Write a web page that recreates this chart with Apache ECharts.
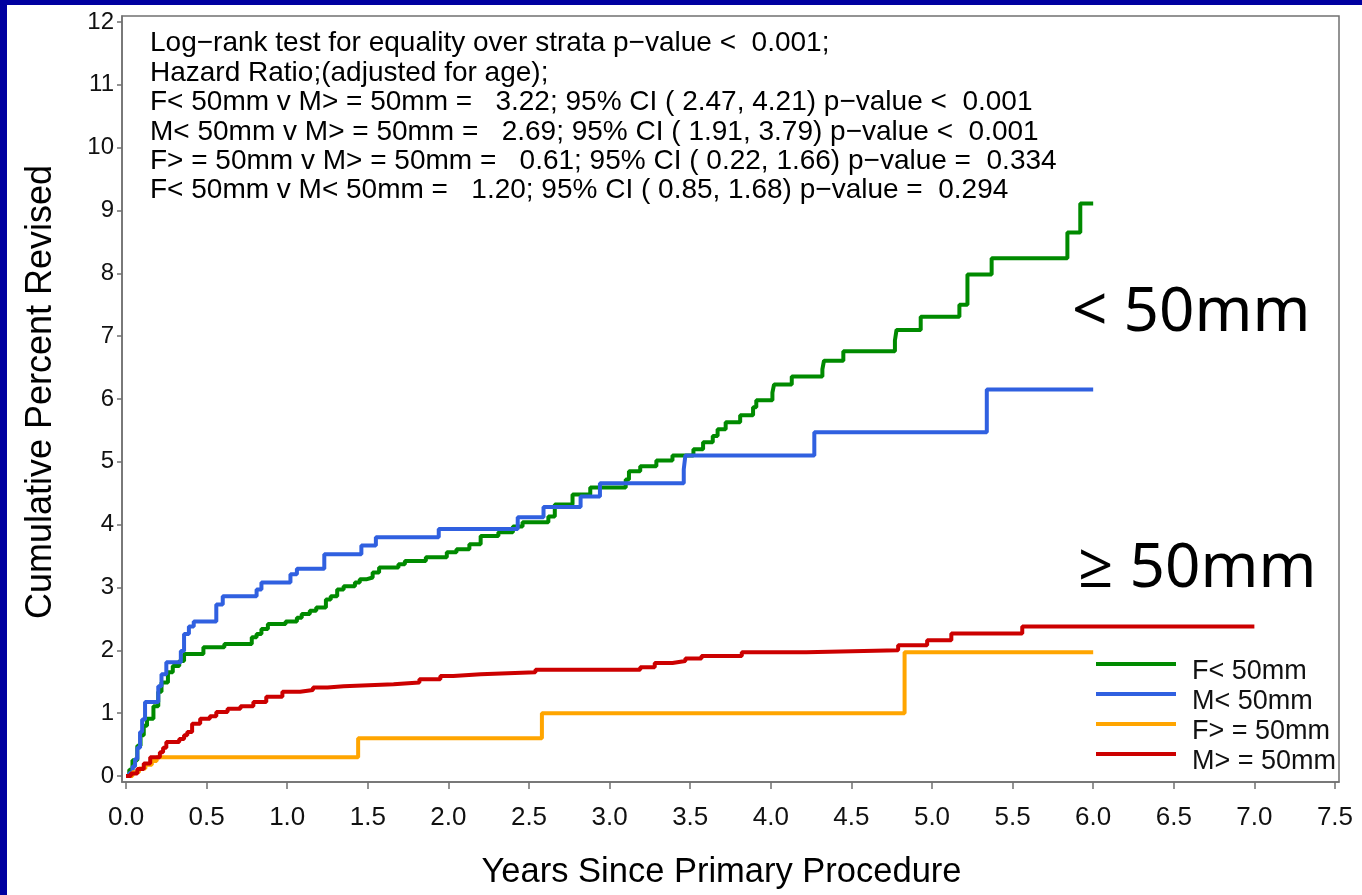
<!DOCTYPE html>
<html>
<head>
<meta charset="utf-8">
<script src="https://cdn.jsdelivr.net/npm/echarts@6/dist/echarts.min.js"></script>
<style>
  html, body { margin: 0; padding: 0; background: #0000a0; width: 1362px; height: 895px; overflow: hidden; }
  #chart { position: absolute; left: 7px; top: 5px; width: 1355px; height: 890px; background: #ffffff; }
</style>
</head>
<body>
<div id="chart"></div>
<script>
// ---- data ----
var seriesNames = ['F< 50mm', 'M< 50mm', 'F> = 50mm', 'M> = 50mm'];

var femaleLt50 = [[0,0],[0.02,0.1],[0.04,0.25],[0.07,0.48],[0.09,0.65],[0.11,0.8],[0.13,0.91],[0.17,1.11],[0.20,1.34],[0.22,1.49],[0.26,1.65],[0.29,1.75],[0.33,1.83],[0.36,1.94],[0.48,2.05],[0.61,2.10],[0.78,2.21],[0.81,2.26],[0.84,2.34],[0.88,2.42],[0.99,2.46],[1.06,2.52],[1.09,2.58],[1.14,2.63],[1.18,2.68],[1.24,2.81],[1.27,2.86],[1.31,2.97],[1.35,3.02],[1.42,3.08],[1.45,3.13],[1.49,3.16],[1.53,3.24],[1.57,3.32],[1.69,3.37],[1.73,3.42],[1.86,3.48],[1.99,3.56],[2.05,3.61],[2.13,3.69],[2.20,3.82],[2.31,3.88],[2.40,3.97],[2.46,4.04],[2.62,4.13],[2.66,4.32],[2.77,4.48],[2.88,4.59],[3.10,4.72],[3.12,4.85],[3.19,4.93],[3.29,5.02],[3.39,5.10],[3.52,5.20],[3.58,5.31],[3.64,5.41],[3.67,5.52],[3.72,5.63],[3.81,5.74],[3.89,5.87],[3.91,5.98],[4.01,6.10],[4.02,6.23],[4.13,6.36],[4.32,6.47],[4.33,6.61],[4.45,6.76],[4.77,6.93],[4.78,7.10],[4.93,7.31],[5.17,7.50],[5.22,7.98],[5.37,8.24],[5.84,8.65],[5.92,9.11],[6.0,9.11]];

var maleLt50 = [[0,0],[0.02,0.05],[0.04,0.15],[0.056,0.27],[0.07,0.45],[0.087,0.70],[0.10,0.9],[0.118,1.18],[0.20,1.43],[0.22,1.62],[0.25,1.81],[0.34,1.99],[0.36,2.26],[0.39,2.38],[0.42,2.46],[0.56,2.73],[0.60,2.86],[0.81,2.97],[0.84,3.08],[1.02,3.21],[1.06,3.30],[1.23,3.53],[1.46,3.67],[1.55,3.80],[1.94,3.93],[2.43,4.12],[2.59,4.28],[2.82,4.45],[2.94,4.66],[3.46,4.88],[3.47,5.10],[4.27,5.47],[5.34,6.15],[6.0,6.15]];

var femaleGe50 = [[0,0],[0.04,0.06],[0.08,0.12],[0.12,0.18],[0.16,0.24],[0.19,0.30],[1.44,0.60],[2.58,1.00],[4.83,1.97],[6.0,1.97]];

var maleGe50 = [[0,0],[0.03,0.04],[0.07,0.11],[0.11,0.2],[0.15,0.30],[0.21,0.38],[0.23,0.45],[0.25,0.54],[0.33,0.59],[0.36,0.65],[0.38,0.70],[0.41,0.83],[0.46,0.91],[0.52,0.95],[0.56,1.02],[0.63,1.07],[0.71,1.11],[0.79,1.18],[0.87,1.26],[0.97,1.34],[1.08,1.37],[1.16,1.41],[1.25,1.43],[1.35,1.46],[1.66,1.49],[1.82,1.54],[1.95,1.59],[2.03,1.62],[2.20,1.65],[2.54,1.69],[3.19,1.73],[3.28,1.80],[3.39,1.83],[3.47,1.87],[3.57,1.91],[3.82,1.97],[4.22,2.00],[4.79,2.08],[4.97,2.16],[5.12,2.27],[5.56,2.38],[7.0,2.38]];

var xTicks = [0,0.5,1,1.5,2,2.5,3,3.5,4,4.5,5,5.5,6,6.5,7,7.5];
var yTicks = [0,1,2,3,4,5,6,7,8,9,10,11,12];

var statLines = [
  'Log\u2212rank test for equality over strata p\u2212value <  0.001;',
  'Hazard Ratio;(adjusted for age);',
  'F< 50mm v M> = 50mm =   3.22; 95% CI ( 2.47, 4.21) p\u2212value <  0.001',
  'M< 50mm v M> = 50mm =   2.69; 95% CI ( 1.91, 3.79) p\u2212value <  0.001',
  'F> = 50mm v M> = 50mm =   0.61; 95% CI ( 0.22, 1.66) p\u2212value =  0.334',
  'F< 50mm v M< 50mm =   1.20; 95% CI ( 0.85, 1.68) p\u2212value =  0.294'
];
var groupLabels = ['< 50mm', '\u2265 50mm'];

var colors = ['#008a00', '#3060e0', '#ffa500', '#cc0000'];
var seriesData = [femaleLt50, maleLt50, femaleGe50, maleGe50];

var chart = echarts.init(document.getElementById('chart'), null, {renderer: 'canvas'});
var SAS = '"Liberation Sans", Arial, sans-serif';

var series = seriesNames.map(function (n, i) {
  return {
    name: n,
    type: 'line',
    step: 'end',
    data: seriesData[i],
    showSymbol: false,
    symbol: 'none',
    lineStyle: { color: colors[i], width: 4 },
    itemStyle: { color: colors[i] },
    z: 2 + i
  };
});

// legend icon: line drawn in the upper part of the icon box (tiny anchor at bottom)
var legendIcon = 'path://M0,0L80,0L80,4L0,4Z M0,19.99L0.01,19.99L0.01,20L0,20Z';

chart.setOption({
  animation: false,
  backgroundColor: '#ffffff',
  grid: {
    left: 115, right: 23, top: 11, bottom: 112,
    show: true, borderColor: '#707070', borderWidth: 1.5, backgroundColor: 'transparent'
  },
  xAxis: {
    type: 'value', min: -0.025, max: 7.525,
    name: 'Years Since Primary Procedure',
    nameLocation: 'middle', nameGap: 73,
    nameTextStyle: { fontFamily: SAS, fontSize: 34.5, color: '#000', padding: [0, 18, 0, 0] },
    axisLine: { show: true, onZero: false, lineStyle: { color: '#707070', width: 1.5 } },
    axisTick: { show: true, customValues: xTicks, length: 7, lineStyle: { color: '#707070', width: 1.5 } },
    axisLabel: { customValues: xTicks, margin: 23, fontFamily: SAS, fontSize: 26, color: '#111',
      formatter: function (v) { return v.toFixed(1); } },
    splitLine: { show: false }
  },
  yAxis: {
    type: 'value', min: -0.095, max: 12.095,
    name: 'Cumulative Percent Revised',
    nameLocation: 'middle', nameGap: 63, nameRotate: 90,
    nameTextStyle: { fontFamily: SAS, fontSize: 36, color: '#000', padding: [0, 0, 0, 14] },
    axisLine: { show: true, onZero: false, lineStyle: { color: '#707070', width: 1.5 } },
    axisTick: { show: true, customValues: yTicks, length: 5, lineStyle: { color: '#707070', width: 1.5 } },
    axisLabel: { customValues: yTicks, margin: 8, fontFamily: SAS, fontSize: 24, color: '#111',
      formatter: function (v) { return String(Math.round(v)); } },
    splitLine: { show: false }
  },
  legend: {
    orient: 'vertical',
    left: 1084, top: 647,
    itemWidth: 80, itemHeight: 20, itemGap: 0,
    icon: legendIcon,
    selectedMode: false,
    data: seriesNames,
    textStyle: { fontFamily: SAS, fontSize: 27, color: '#111', lineHeight: 30, padding: [0, 0, 0, 11] }
  },
  graphic: [
    { type: 'text', left: 143, top: 24, z: 10,
      style: { text: statLines.join('\n'), font: '28px ' + SAS, lineHeight: 29.4, fill: '#000' } },
    { type: 'text', left: 1065, top: 277, z: 10,
      style: { text: groupLabels[0], font: '62px "Noto Sans", "Open Sans", sans-serif', fill: '#000' } },
    { type: 'text', left: 1071, top: 533, z: 10,
      style: { text: groupLabels[1], font: '62px "Noto Sans", "Open Sans", sans-serif', fill: '#000' } }
  ],
  series: series
});
</script>
</body>
</html>
